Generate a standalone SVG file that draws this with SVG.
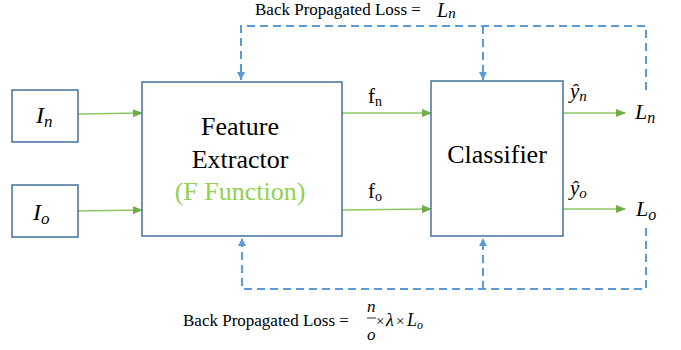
<svg xmlns="http://www.w3.org/2000/svg" width="681" height="350" viewBox="0 0 681 350">
<defs>
<marker id="ga" markerWidth="10" markerHeight="8" refX="9" refY="4" orient="auto" markerUnits="userSpaceOnUse"><path d="M0,0 L10,4 L0,8 Z" fill="#70AD47"/></marker>
<marker id="ba" markerWidth="9" markerHeight="8" refX="8" refY="4" orient="auto" markerUnits="userSpaceOnUse"><path d="M0,0 L8,4 L0,8 Z" fill="#5B9BD5"/></marker>
</defs>
<style>
.box{fill:#fff;stroke:#41719C;stroke-width:1.5}
.g{stroke:#8CC665;stroke-width:1.5;fill:none;marker-end:url(#ga)}
.d{stroke:#5B9BD5;stroke-width:2;fill:none;stroke-dasharray:8 5}
.m{font-style:italic}
</style>
<g id="connectors">
<line class="g" x1="78" y1="114" x2="142" y2="113"/>
<line class="g" x1="78" y1="211" x2="142" y2="210"/>
<line class="g" x1="342" y1="113" x2="431" y2="113"/>
<line class="g" x1="342" y1="210" x2="431" y2="209"/>
<line class="g" x1="563" y1="113" x2="625" y2="113"/>
<line class="g" x1="563" y1="209" x2="625" y2="209"/>
<path class="d" d="M646,90 V26 H241 V80" marker-end="url(#ba)"/>
<path class="d" d="M483,26 V80" marker-end="url(#ba)"/>
<path class="d" d="M646,228 V289 H242 V238" marker-end="url(#ba)"/>
<path class="d" d="M483,289 V238" marker-end="url(#ba)"/>
</g>
<g font-family="'Liberation Serif', Tinos, 'Times New Roman', Times, 'DejaVu Serif', serif" fill="#000">
<g id="In">
<rect class="box" x="12" y="90" width="66" height="52"/>
<text class="m" x="36" y="123" font-size="24">I<tspan font-size="17" dy="4">n</tspan></text>
</g>
<g id="Io">
<rect class="box" x="12" y="185" width="66" height="52"/>
<text class="m" x="33" y="220" font-size="24">I<tspan font-size="17" dy="4">o</tspan></text>
</g>
<g id="feature">
<rect class="box" x="142" y="82" width="200" height="154"/>
<text x="240" y="135" font-size="26" text-anchor="middle">Feature</text>
<text x="240" y="168" font-size="26" text-anchor="middle">Extractor</text>
<text x="240" y="200" font-size="26" text-anchor="middle" fill="#92D050">(F Function)</text>
</g>
<g id="classifier">
<rect class="box" x="431" y="81" width="132" height="155"/>
<text x="497" y="163" font-size="26" text-anchor="middle">Classifier</text>
</g>
<g id="labels">
<text x="368" y="103" font-size="21">f<tspan font-size="14" dy="3">n</tspan></text>
<text x="368" y="198" font-size="21">f<tspan font-size="14" dy="3">o</tspan></text>
<text class="m" x="570" y="98" font-size="21">ŷ<tspan font-size="15" dy="3">n</tspan></text>
<text class="m" x="570" y="195" font-size="21">ŷ<tspan font-size="15" dy="3">o</tspan></text>
<text class="m" x="635" y="119" font-size="22">L<tspan font-size="16" dy="4">n</tspan></text>
<text class="m" x="636" y="216" font-size="22">L<tspan font-size="16" dy="4">o</tspan></text>
<text x="255" y="15" font-size="17">Back Propagated Loss =</text>
<text class="m" x="437" y="17" font-size="20">L<tspan font-size="15" dy="1">n</tspan></text>
<text x="183" y="326" font-size="17">Back Propagated Loss =</text>
<text class="m" x="367" y="312" font-size="17">n</text>
<line x1="367" y1="318" x2="376" y2="318" stroke="#000" stroke-width="0.8"/>
<text class="m" x="367" y="340" font-size="17">o</text>
<text x="376" y="326" font-size="15">×</text>
<text class="m" x="386" y="326" font-size="18">λ</text>
<text x="396" y="326" font-size="15">×</text>
<text class="m" x="407" y="326" font-size="18">L<tspan font-size="12" dy="3">o</tspan></text>
</g>
</g>
</svg>
